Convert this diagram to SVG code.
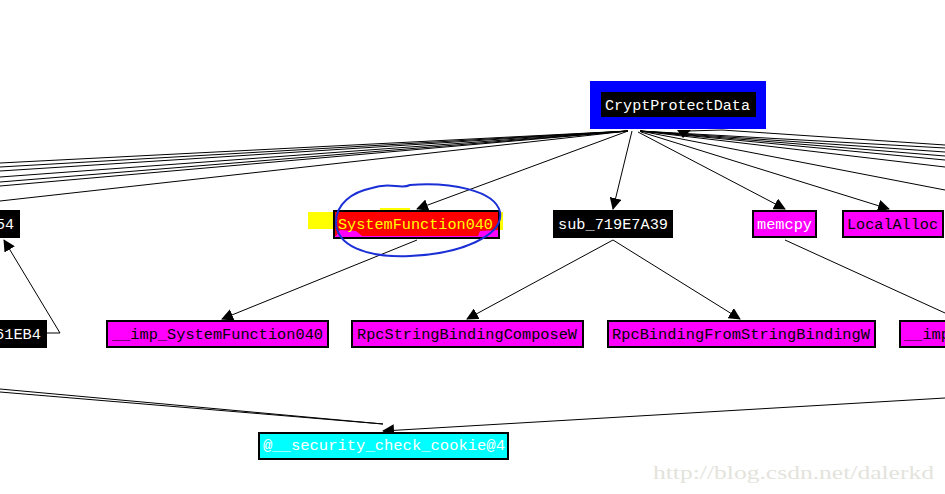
<svg xmlns="http://www.w3.org/2000/svg" width="945" height="494" viewBox="0 0 945 494">
<defs>
<style>
.t{font-family:"Liberation Mono","DejaVu Sans Mono",monospace;font-size:14.5px}
.w{fill:#ffffff}.k{fill:#000000}.y{fill:#ffff00}
.blk{fill:#000000}
.mag{fill:#ff00ff;stroke:#000;stroke-width:2}
.cy{fill:#00ffff;stroke:#000;stroke-width:2}
.e{stroke:#000;stroke-width:1;fill:none}
.wm{font-family:"Liberation Serif","DejaVu Serif",serif;font-size:18px;fill:#e3e3dc}
</style>
<marker id="ah" markerUnits="userSpaceOnUse" markerWidth="12" markerHeight="12" viewBox="0 0 12 12" refX="11" refY="6" orient="auto">
<path d="M0,0 L12,6 L0,12 z" fill="#000"/>
</marker>
</defs>
<rect width="945" height="494" fill="#ffffff"/>

<g id="connectors">
<path class="e" d="M628,131 L0,163 M628,131 L0,167 M628,131 L0,171 M628,131 L0,177 M628,131 L0,182 M628,131 L0,186 M628,131 L0,201"/>
<path class="e" d="M640,131 L945,148 M640,131 L945,152 M640,131 L945,156 M640,131 L945,160 M640,131 L945,167 M640,131 L945,190"/>
<path class="e" d="M945,145 L722,130 L688,131"/>
<polygon points="677,130 691,130 683,138" fill="#000"/>
<line class="e" x1="628" y1="131" x2="417" y2="209" marker-end="url(#ah)"/>
<line class="e" x1="632" y1="131" x2="613" y2="209" marker-end="url(#ah)"/>
<line class="e" x1="638" y1="132" x2="785" y2="209" marker-end="url(#ah)"/>
<line class="e" x1="641" y1="132" x2="889" y2="209" marker-end="url(#ah)"/>
<line class="e" x1="417" y1="240" x2="222" y2="319" marker-end="url(#ah)"/>
<line class="e" x1="613" y1="240" x2="467" y2="319" marker-end="url(#ah)"/>
<line class="e" x1="613" y1="240" x2="740" y2="319" marker-end="url(#ah)"/>
<line class="e" x1="785" y1="240" x2="945" y2="313"/>
<polyline class="e" points="47,333 60,333 4,240" marker-end="url(#ah)"/>
<path class="e" d="M0,389 L383,424 M0,392 L383,424"/>
<line class="e" x1="945" y1="398" x2="383" y2="431" marker-end="url(#ah)"/>
</g>

<g id="CryptProtectData">
<rect x="590" y="81" width="176" height="48" fill="#0000ff"/>
<rect x="601" y="92" width="155" height="25" fill="#000"/>
<text class="t w" x="605" y="110" textLength="145" lengthAdjust="spacingAndGlyphs">CryptProtectData</text>
</g>

<g id="n54">
<rect x="-2" y="210" width="22" height="28" class="blk"/>
<text class="t w" x="-4" y="229" textLength="18" lengthAdjust="spacingAndGlyphs">54</text>
</g>

<g id="SystemFunction040">
<rect x="308" y="212" width="26" height="17" fill="#ffff00"/>
<rect x="380" y="208" width="30" height="3" fill="#ffff00"/>
<rect x="499" y="212" width="4" height="18" fill="#ffff00"/>
<rect x="334" y="211" width="165" height="27" class="mag"/>
<path d="M335,212 L498,212 L498,230 L480,231 L478,236 L362,236 L356,231 L340,230 L336,236 L335,236 z" fill="#ff0000"/>
<text class="t y" x="338" y="229" textLength="155" lengthAdjust="spacingAndGlyphs">SystemFunction040</text>
<path d="M372,188 C390,181 400,190 410,185 C450,182 495,190 500,212 C504,236 460,254 410,256 C365,258 336,245 336,222 C336,204 352,192 372,188 Z" fill="none" stroke="#1a2fd6" stroke-width="2"/>
</g>

<g id="sub_719E7A39">
<rect x="553" y="210" width="120" height="28" class="blk"/>
<text class="t w" x="558" y="229" textLength="110" lengthAdjust="spacingAndGlyphs">sub_719E7A39</text>
</g>

<g id="memcpy">
<rect x="753" y="211" width="63" height="26" class="mag"/>
<text class="t w" x="757" y="229" textLength="55" lengthAdjust="spacingAndGlyphs">memcpy</text>
</g>

<g id="LocalAlloc">
<rect x="843" y="211" width="100" height="26" class="mag"/>
<text class="t k" x="847" y="229" textLength="91" lengthAdjust="spacingAndGlyphs">LocalAlloc</text>
</g>

<g id="n61EB4">
<rect x="-2" y="320" width="49" height="28" class="blk"/>
<text class="t w" x="-5" y="339" textLength="46" lengthAdjust="spacingAndGlyphs">61EB4</text>
</g>

<g id="imp_SystemFunction040">
<rect x="107" y="321" width="221" height="26" class="mag"/>
<text class="t k" x="112" y="339" textLength="211" lengthAdjust="spacingAndGlyphs">__imp_SystemFunction040</text>
</g>

<g id="RpcStringBindingComposeW">
<rect x="352" y="321" width="231" height="26" class="mag"/>
<text class="t k" x="357" y="339" textLength="220" lengthAdjust="spacingAndGlyphs">RpcStringBindingComposeW</text>
</g>

<g id="RpcBindingFromStringBindingW">
<rect x="608" y="321" width="267" height="26" class="mag"/>
<text class="t k" x="612" y="339" textLength="258" lengthAdjust="spacingAndGlyphs">RpcBindingFromStringBindingW</text>
</g>

<g id="imp_right">
<rect x="900" y="321" width="50" height="26" class="mag"/>
<text class="t k" x="904" y="339" textLength="46" lengthAdjust="spacingAndGlyphs">__imp</text>
</g>

<g id="security_check_cookie">
<rect x="259" y="433" width="249" height="26" class="cy"/>
<text class="t w" x="263" y="450" textLength="242" lengthAdjust="spacingAndGlyphs">@__security_check_cookie@4</text>
</g>

<text class="wm" x="653" y="479" textLength="281" lengthAdjust="spacingAndGlyphs">http://blog.csdn.net/dalerkd</text>
</svg>
